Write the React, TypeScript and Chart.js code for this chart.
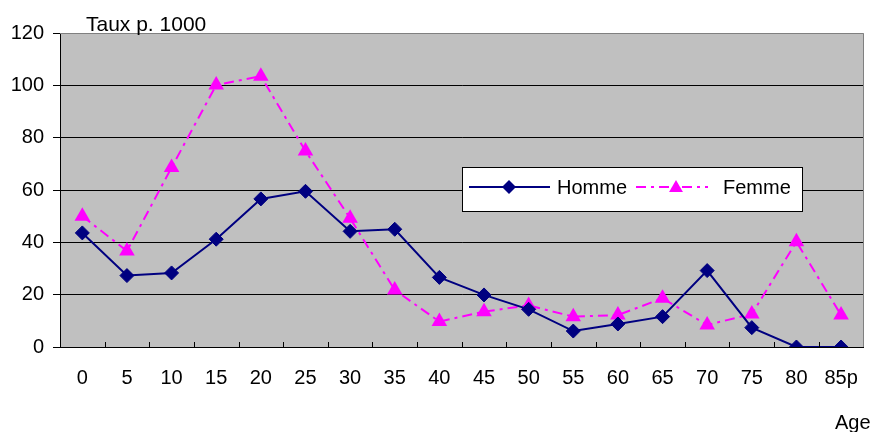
import React, { useEffect, useRef } from 'react';
import { Chart, registerables } from 'chart.js';

Chart.register(...registerables);

const ages = ['0', '5', '10', '15', '20', '25', '30', '35', '40', '45', '50', '55', '60', '65', '70', '75', '80', '85p'];
const homme = [43.6, 27.3, 28.3, 41.2, 56.6, 59.5, 44.2, 45.0, 26.6, 19.9, 14.4, 6.1, 8.8, 11.6, 29.2, 7.4, 0, 0];
const femme = [50.0, 36.7, 68.6, 100.1, 103.5, 74.9, 49.2, 21.8, 9.7, 13.5, 15.9, 11.6, 12.2, 18.6, 8.4, 12.6, 40.2, 12.2];
const seriesNames = ['Homme', 'Femme'];
const yMin = 0;
const yMax = 120;
const yStep = 20;
const yTitle = 'Taux p. 1000';
const xTitle = 'Age';

const FONT = '"Liberation Sans", Arial, sans-serif';
const NAVY = '#000080';
const MAGENTA = '#FF00FF';
const FEMME_DASH = [10, 5, 3, 5];

function drawDiamond(ctx: CanvasRenderingContext2D, x: number, y: number, r: number, color: string) {
  ctx.save();
  ctx.fillStyle = color;
  ctx.beginPath();
  ctx.moveTo(x, y - r);
  ctx.lineTo(x + r, y);
  ctx.lineTo(x, y + r);
  ctx.lineTo(x - r, y);
  ctx.closePath();
  ctx.fill();
  ctx.restore();
}

function drawTriangle(ctx: CanvasRenderingContext2D, x: number, y: number, r: number, color: string) {
  ctx.save();
  ctx.fillStyle = color;
  ctx.beginPath();
  ctx.moveTo(x, y - r);
  ctx.lineTo(x + r * Math.sin((2 * Math.PI) / 3), y + r / 2);
  ctx.lineTo(x - r * Math.sin((2 * Math.PI) / 3), y + r / 2);
  ctx.closePath();
  ctx.fill();
  ctx.restore();
}

const decorPlugin = {
  id: 'decor',
  beforeDraw(chart: any) {
    const { ctx, chartArea } = chart;
    ctx.save();
    ctx.fillStyle = '#FFFFFF';
    ctx.fillRect(0, 0, chart.width, chart.height);
    ctx.fillStyle = '#C0C0C0';
    ctx.fillRect(chartArea.left, chartArea.top, chartArea.right - chartArea.left, chartArea.bottom - chartArea.top);
    ctx.restore();
  },
  afterDatasetsDraw(chart: any) {
    const { ctx, chartArea } = chart;
    const xs = chart.scales.x;
    ctx.save();
    ctx.strokeStyle = '#808080';
    ctx.lineWidth = 1;
    ctx.beginPath();
    ctx.moveTo(Math.round(chartArea.left), Math.round(chartArea.top) + 0.5);
    ctx.lineTo(Math.round(chartArea.right) + 0.5, Math.round(chartArea.top) + 0.5);
    ctx.lineTo(Math.round(chartArea.right) + 0.5, Math.round(chartArea.bottom));
    ctx.stroke();
    ctx.strokeStyle = '#000000';
    const n = ages.length;
    const step = (chartArea.right - chartArea.left) / n;
    ctx.beginPath();
    for (let k = 1; k < n; k++) {
      const px = Math.round(xs.getPixelForValue(k) - step / 2) + 0.5;
      ctx.moveTo(px, chartArea.bottom - 5);
      ctx.lineTo(px, chartArea.bottom);
    }
    ctx.stroke();

    ctx.fillStyle = '#000000';
    ctx.font = `21px ${FONT}`;
    ctx.textAlign = 'left';
    ctx.textBaseline = 'alphabetic';
    ctx.fillText(yTitle, 86, 31);
    ctx.font = `20px ${FONT}`;
    ctx.textBaseline = 'middle';
    ctx.fillText(xTitle, 835, 423);

    const lx = 462.5, ly = 167.5, lw = 340, lh = 44;
    ctx.fillStyle = '#FFFFFF';
    ctx.fillRect(lx, ly, lw, lh);
    ctx.strokeStyle = '#000000';
    ctx.lineWidth = 1;
    ctx.strokeRect(lx, ly, lw, lh);
    const cy = 187;
    ctx.strokeStyle = NAVY;
    ctx.lineWidth = 2;
    ctx.beginPath();
    ctx.moveTo(469, cy);
    ctx.lineTo(550, cy);
    ctx.stroke();
    drawDiamond(ctx, 509, cy, 7, NAVY);
    ctx.fillStyle = '#000000';
    ctx.textBaseline = 'middle';
    ctx.fillText(seriesNames[0], 557, cy + 1);

    ctx.strokeStyle = MAGENTA;
    ctx.setLineDash(FEMME_DASH);
    ctx.beginPath();
    ctx.moveTo(636, cy);
    ctx.lineTo(708, cy);
    ctx.stroke();
    ctx.setLineDash([]);
    drawTriangle(ctx, 676, cy + 1, 8, MAGENTA);
    ctx.fillStyle = '#000000';
    ctx.fillText(seriesNames[1], 723, cy + 1);
    ctx.restore();
  },
};

export default function App() {
  const ref = useRef<HTMLCanvasElement>(null);
  useEffect(() => {
    if (!ref.current) return;
    Chart.defaults.font.family = FONT;
    const chart = new Chart(ref.current, {
      type: 'line',
      data: {
        labels: ages,
        datasets: [
          {
            label: seriesNames[0],
            data: homme,
            borderColor: NAVY,
            backgroundColor: NAVY,
            borderWidth: 2,
            pointStyle: 'rectRot',
            pointRadius: 7,
            pointBorderWidth: 1,
            pointBackgroundColor: NAVY,
            pointBorderColor: NAVY,
            tension: 0,
          },
          {
            label: seriesNames[1],
            data: femme,
            borderColor: MAGENTA,
            backgroundColor: MAGENTA,
            borderWidth: 2,
            borderDash: FEMME_DASH,
            pointStyle: 'triangle',
            pointRadius: 9,
            pointBorderWidth: 0,
            pointBackgroundColor: MAGENTA,
            pointBorderColor: MAGENTA,
            tension: 0,
          },
        ],
      },
      options: {
        animation: false,
        responsive: false,
        maintainAspectRatio: false,
        layout: { padding: { top: 33, right: 9, left: 0, bottom: 0 } },
        plugins: { legend: { display: false }, tooltip: { enabled: false }, title: { display: false } },
        scales: {
          x: {
            type: 'category',
            offset: true,
            grid: { display: false, drawTicks: false },
            border: { display: true, color: '#000000', width: 1 },
            ticks: {
              color: '#000000',
              font: { family: FONT, size: 20 },
              padding: 19,
              maxRotation: 0,
              autoSkip: false,
            },
            afterFit: (s: any) => {
              s.height = 85;
            },
          },
          y: {
            min: yMin,
            max: yMax,
            ticks: {
              stepSize: yStep,
              color: '#000000',
              font: { family: FONT, size: 20 },
              padding: 9,
            },
            grid: {
              color: (c: any) => (c.tick && c.tick.value === yMax ? '#808080' : '#000000'),
              tickColor: '#000000',
              tickLength: 7,
              drawTicks: true,
              lineWidth: 1,
            },
            border: { display: true, color: '#000000', width: 1 },
            afterFit: (s: any) => {
              s.width = 60;
            },
          },
        },
      },
      plugins: [decorPlugin],
    } as any);
    return () => chart.destroy();
  }, []);
  return (
    <div style={{ position: 'absolute', left: 0, top: 0, width: 877, height: 432 }}>
      <canvas ref={ref} width={877} height={432} />
    </div>
  );
}
